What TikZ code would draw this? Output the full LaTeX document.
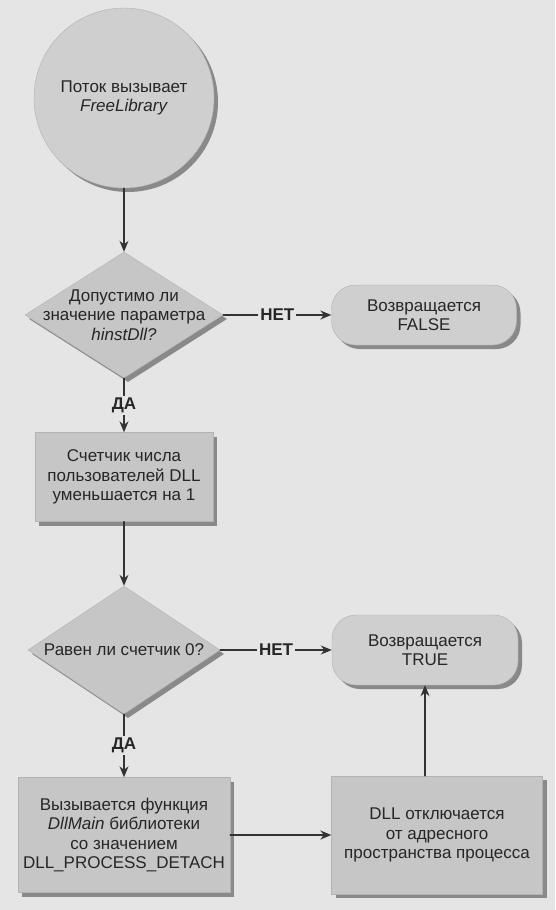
\documentclass[tikz,border=0pt]{standalone}
\usepackage{fontspec}
\setmainfont{Liberation Sans}
\usetikzlibrary{arrows.meta,shapes.geometric,shadows}
\begin{document}
\begin{tikzpicture}[x=1pt, y=-1pt, >={Stealth[length=11pt,width=9pt]},
		font=\fontsize{17}{19.5}\selectfont, line join=round, line cap=round,
		ten/.style={drop shadow={shadow xshift=4pt, shadow yshift=-4pt, fill=black!55, opacity=.8}},
		blok/.style={rectangle, fill=gray!45, draw=black!30, ten, align=center, inner sep=0pt, text=black!85},
		romb/.style={diamond, fill=gray!45, draw=black!30, ten, inner sep=0pt},
		kon/.style={rectangle, rounded corners=24pt, fill=gray!38, draw=black!30, ten, align=center, inner sep=0pt, text=black!85},
		strel/.style={->, line width=1.4pt, draw=black!80},
		otv/.style={fill=gray!20, text=black!85, font=\fontsize{17}{19.5}\selectfont\bfseries, inner sep=2pt}]
				\fill [gray!20] (0,0) rectangle (555,910);
				\node [circle, fill=gray!38, draw=black!30, ten, minimum size=180pt, inner sep=0pt, align=center, text=black!85] (start) at (124,98) {Поток вызывает\\\textit{FreeLibrary}};
				\node [romb, minimum width=198pt, minimum height=126pt,
					label={[align=center, text=black!85]center:Допустимо ли\\значение параметра\\\textit{hinstDll?}}] (d1) at (124,315) {};
				\node [kon, minimum width=185pt, minimum height=60pt] (retfalse) at (424,315) {Возвращается\\FALSE};
				\node [blok, minimum width=178pt, minimum height=89pt] (schet) at (124,477) {Счетчик числа\\пользователей DLL\\уменьшается на 1};
				\node [romb, minimum width=192pt, minimum height=128pt,
					label={[text=black!85]center:Равен ли счетчик 0?}] (d2) at (124,650) {};
				\node [kon, minimum width=186pt, minimum height=70pt] (rettrue) at (425,650) {Возвращается\\TRUE};
				\node [blok, minimum width=212pt, minimum height=115pt] (vyzov) at (124,835) {Вызывается функция\\\textit{DllMain} библиотеки\\со значением\\DLL\_PROCESS\_DETACH};
				\node [blok, minimum width=211pt, minimum height=118pt] (otkl) at (437,835) {DLL отключается\\от адресного\\пространства процесса};
				\draw [strel] (start) -- (d1);
				\draw [strel] (d1) -- node[otv]{НЕТ} (retfalse);
				\draw [strel] (d1) -- node[otv]{ДА} (schet);
				\draw [strel] (schet) -- (d2);
				\draw [strel] (d2) -- node[otv]{НЕТ} (rettrue);
				\draw [strel] (d2) -- node[otv]{ДА} (vyzov);
				\draw [strel] (vyzov) -- (otkl);
				\draw [strel] (otkl.north -| rettrue.south) -- (rettrue.south);
		\end{tikzpicture}
\end{document}
